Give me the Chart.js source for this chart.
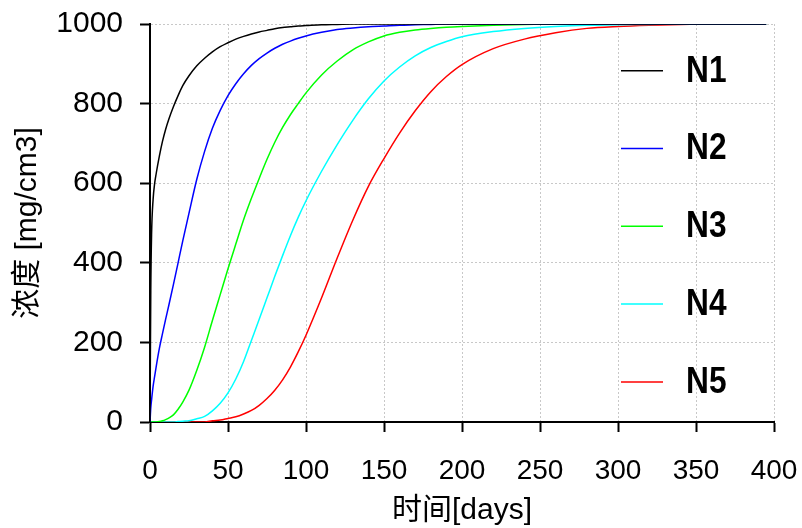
<!DOCTYPE html>
<html>
<head>
<meta charset="utf-8">
<script src="https://cdn.jsdelivr.net/npm/chart.js@4.4.1/dist/chart.umd.min.js"></script>
<style>
  html, body { margin: 0; padding: 0; background: #fff; }
  canvas { display: block; }
</style>
</head>
<body>
<canvas id="chart" width="802" height="528"></canvas>
<script>
// données (temps en jours, concentration en mg/cm3)
const days = [0, 0.5, 1, 2, 3, 4, 6, 8, 10, 12, 15, 18, 21, 25, 30, 35, 40, 45, 50, 55, 60, 65, 70, 75, 80, 85, 90, 95, 100,
  110, 120, 130, 140, 150, 160, 170, 180, 190, 200, 220, 240, 260, 280, 300, 320, 340, 360, 380, 395];

const n1 = [0, 330, 470, 560, 600, 625, 668, 705, 735, 760, 792, 820, 845, 870, 895, 914, 930, 943, 953, 962, 969, 975, 980, 984, 988, 991, 993, 995, 996,
  998, 999, 1000, 1000, 1000, 1000, 1000, 1000, 1000, 1000, 1000, 1000, 1000, 1000, 1000, 1000, 1000, 1000, 1000, 1000];
const n2 = [0, 35, 55, 90, 115, 140, 185, 222, 258, 292, 345, 400, 455, 525, 610, 680, 738, 783, 820, 850, 875, 896, 913, 927, 939, 949, 957, 964, 970,
  979, 986, 990, 993, 995, 997, 998, 999, 1000, 1000, 1000, 1000, 1000, 1000, 1000, 1000, 1000, 1000, 1000, 1000];
const n3 = [0, 0, 0, 0, 0, 0, 1, 3, 6, 10, 18, 32, 50, 80, 130, 188, 255, 320, 385, 447, 508, 562, 612, 660, 703, 740, 772, 800, 827,
  872, 907, 935, 955, 970, 979, 985, 989, 992, 994, 997, 999, 1000, 1000, 1000, 1000, 1000, 1000, 1000, 1000];
const n4 = [0, 0, 0, 0, 0, 0, 0, 0, 0, 0, 0, 1, 2, 3, 8, 14, 28, 47, 73, 108, 152, 205, 258, 312, 366, 418, 468, 514, 556,
  630, 697, 758, 812, 857, 892, 920, 941, 956, 968, 981, 989, 994, 997, 998, 999, 1000, 1000, 1000, 1000];
const n5 = [0, 0, 0, 0, 0, 0, 0, 0, 0, 0, 0, 0, 0, 0, 0, 0, 3, 5, 9, 13, 20, 29, 42, 59, 80, 106, 138, 176, 218,
  312, 412, 507, 592, 662, 726, 782, 830, 868, 898, 938, 962, 978, 989, 994, 997, 999, 1000, 1000, 1000];

const seriesNames = ["N1", "N2", "N3", "N4", "N5"];
const seriesValues = [n1, n2, n3, n4, n5];
const seriesColors = ["#000000", "#0000ff", "#00ff00", "#00ffff", "#ff0000"];

const xTicks = [0, 50, 100, 150, 200, 250, 300, 350, 400];
const yTicks = [0, 200, 400, 600, 800, 1000];

// légende dessinée à l'intérieur de la zone du graphique
const innerLegend = {
  id: "innerLegend",
  afterDatasetsDraw(chart) {
    const ctx = chart.ctx;
    ctx.save();
    chart.data.datasets.forEach((ds, i) => {
      const y = 70.7 + i * 77.8;
      ctx.strokeStyle = ds.borderColor;
      ctx.lineWidth = 1.5;
      ctx.beginPath();
      ctx.moveTo(621, y);
      ctx.lineTo(663, y);
      ctx.stroke();

      ctx.save();
      ctx.translate(686, y + 1);
      ctx.scale(0.88, 1);
      ctx.fillStyle = "#000";
      ctx.font = "bold 36px 'Liberation Sans', Arial, sans-serif";
      ctx.textAlign = "left";
      ctx.textBaseline = "middle";
      ctx.fillText(ds.label, 0, 0);
      ctx.restore();
    });
    ctx.restore();
  }
};

const whiteBg = {
  id: "whiteBg",
  beforeDraw(chart) {
    const ctx = chart.ctx;
    ctx.save();
    ctx.fillStyle = "#fff";
    ctx.fillRect(0, 0, chart.width, chart.height);
    ctx.restore();
  }
};

const gridStyle = {
  color: "#c8c8c8",
  lineWidth: 1,
  tickLength: 10,
  tickColor: "#000",
  tickWidth: 2,
  tickBorderDash: []
};

new Chart(document.getElementById("chart"), {
  type: "line",
  data: {
    datasets: seriesNames.map((name, i) => ({
      label: name,
      data: days.map((d, k) => ({ x: d, y: seriesValues[i][k] })),
      borderColor: seriesColors[i],
      borderWidth: 1.5,
      pointRadius: 0,
      fill: false,
      cubicInterpolationMode: "monotone"
    }))
  },
  options: {
    responsive: false,
    devicePixelRatio: 1,
    animation: false,
    layout: { padding: { left: 0, right: 28, top: 24, bottom: 0 } },
    plugins: {
      legend: { display: false },
      tooltip: { enabled: false }
    },
    scales: {
      x: {
        type: "linear",
        min: 0,
        max: 400,
        afterBuildTicks: scale => { scale.ticks = xTicks.map(v => ({ value: v })); },
        afterFit: scale => {
          scale.height = 106;
          scale.paddingLeft = 0;
          scale.paddingRight = 0;
        },
        grid: gridStyle,
        border: { display: true, color: "#000", width: 2, dash: [2, 2] },
        ticks: {
          color: "#000",
          padding: 22,
          maxRotation: 0,
          autoSkip: false,
          callback: v => String(v),
          font: { family: "'Liberation Sans', Arial, sans-serif", size: 28 }
        },
        title: {
          display: true,
          text: "时间[days]",
          color: "#000",
          padding: { top: 0, bottom: 2 },
          font: { family: "'Liberation Sans', 'Noto Sans CJK SC', sans-serif", size: 30, lineHeight: 1 }
        }
      },
      y: {
        min: 0,
        max: 1000,
        afterBuildTicks: scale => { scale.ticks = yTicks.map(v => ({ value: v })); },
        afterFit: scale => {
          scale.width = 150;
          scale.paddingTop = 0;
          scale.paddingBottom = 0;
        },
        grid: gridStyle,
        border: { display: true, color: "#000", width: 2, dash: [2, 2] },
        ticks: {
          color: "#000",
          padding: 17,
          callback: v => String(v),
          font: { family: "'Liberation Sans', Arial, sans-serif", size: 30 }
        },
        title: {
          display: true,
          text: "浓度 [mg/cm3]",
          color: "#000",
          padding: { top: 13, bottom: 0 },
          font: { family: "'Liberation Sans', 'Noto Sans CJK SC', sans-serif", size: 30, lineHeight: 1 }
        }
      }
    }
  },
  plugins: [whiteBg, innerLegend]
});
</script>
</body>
</html>
